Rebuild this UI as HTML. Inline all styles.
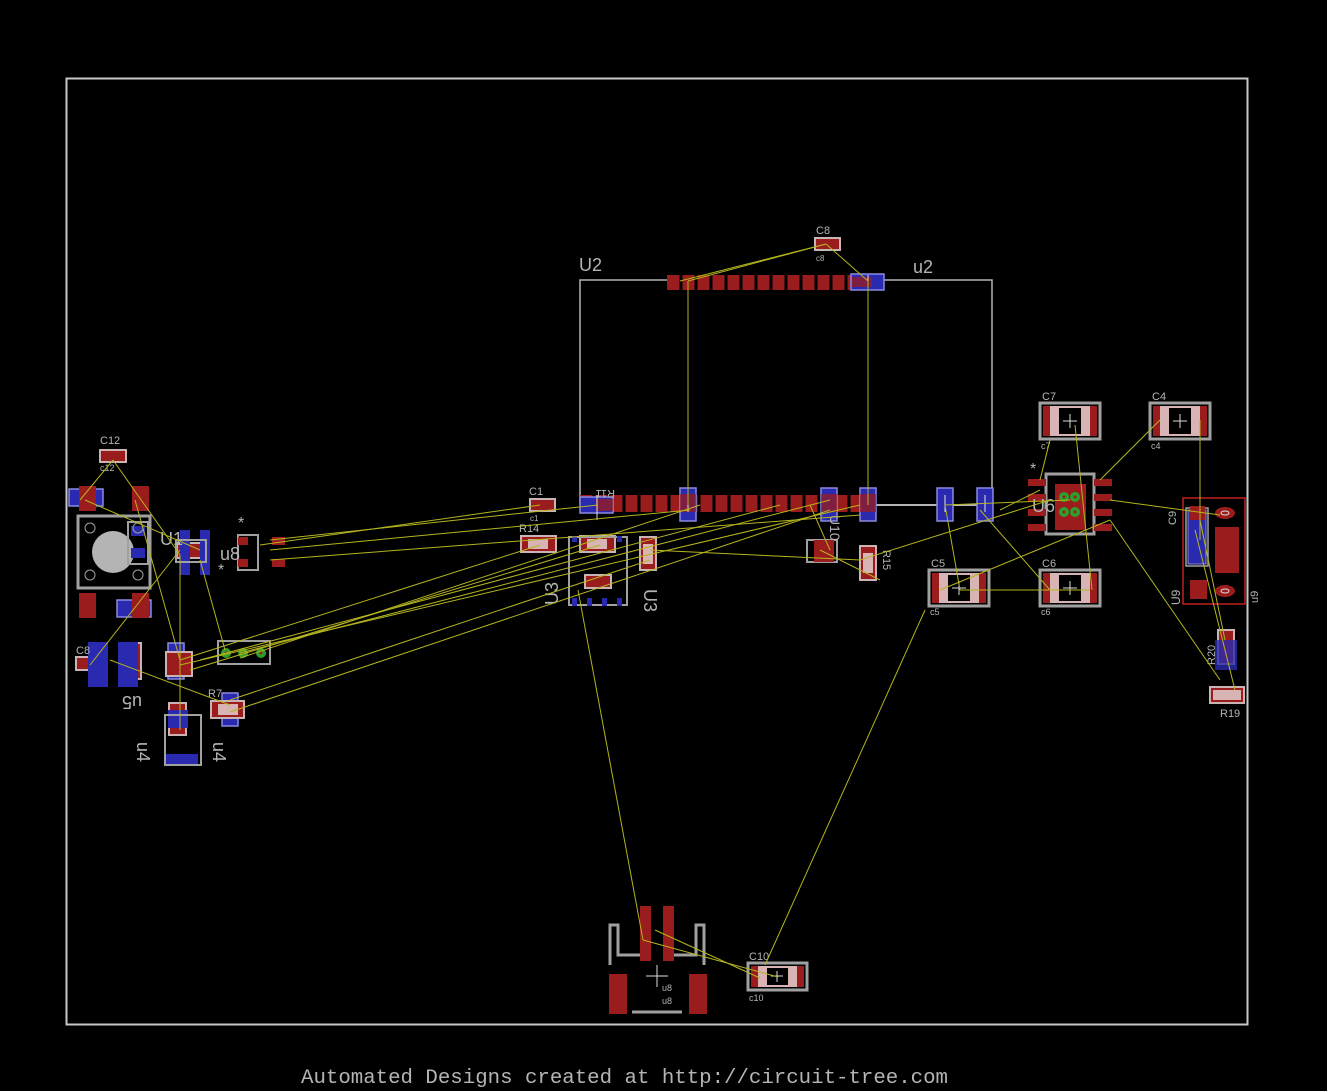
<!DOCTYPE html>
<html><head><meta charset="utf-8"><style>
html,body{margin:0;padding:0;background:#000;}
svg{display:block}
.t{font-family:"Liberation Sans",sans-serif;fill:#b4b4b4}
</style></head><body>
<svg width="1327" height="1091" viewBox="0 0 1327 1091" xmlns="http://www.w3.org/2000/svg">
<rect width="1327" height="1091" fill="#000"/>
<rect x="66.5" y="78.5" width="1181" height="946" fill="none" stroke="#c8c8c8" stroke-width="2"/>

<!-- U2 box -->
<polyline points="580,505 580,280 667,280" fill="none" stroke="#b4b4b4" stroke-width="1.5"/>
<polyline points="884,280 992,280 992,505" fill="none" stroke="#b4b4b4" stroke-width="1.5"/>
<text class="t" x="579" y="271" font-size="18">U2</text>
<text class="t" x="913" y="273" font-size="18">u2</text>
<g fill="#9b1c1c">
<rect x="667" y="275" width="217" height="15"/>
<rect x="580" y="495" width="290" height="17"/>
</g>
<g stroke="#000" stroke-width="3">
<line x1="681" y1="275" x2="681" y2="290"/><line x1="696" y1="275" x2="696" y2="290"/><line x1="711" y1="275" x2="711" y2="290"/><line x1="726" y1="275" x2="726" y2="290"/><line x1="741" y1="275" x2="741" y2="290"/><line x1="756" y1="275" x2="756" y2="290"/><line x1="771" y1="275" x2="771" y2="290"/><line x1="786" y1="275" x2="786" y2="290"/><line x1="801" y1="275" x2="801" y2="290"/><line x1="816" y1="275" x2="816" y2="290"/><line x1="831" y1="275" x2="831" y2="290"/><line x1="846" y1="275" x2="846" y2="290"/>
<line x1="594" y1="495" x2="594" y2="512"/><line x1="609" y1="495" x2="609" y2="512"/><line x1="624" y1="495" x2="624" y2="512"/><line x1="639" y1="495" x2="639" y2="512"/><line x1="654" y1="495" x2="654" y2="512"/><line x1="669" y1="495" x2="669" y2="512"/><line x1="699" y1="495" x2="699" y2="512"/><line x1="714" y1="495" x2="714" y2="512"/><line x1="729" y1="495" x2="729" y2="512"/><line x1="744" y1="495" x2="744" y2="512"/><line x1="759" y1="495" x2="759" y2="512"/><line x1="774" y1="495" x2="774" y2="512"/><line x1="789" y1="495" x2="789" y2="512"/><line x1="804" y1="495" x2="804" y2="512"/><line x1="819" y1="495" x2="819" y2="512"/><line x1="849" y1="495" x2="849" y2="512"/>
</g>
<line x1="870" y1="505" x2="992" y2="505" stroke="#b4b4b4" stroke-width="2"/>

<!-- blue resistors -->
<g fill="#2a2ab0" stroke="#8a8ae0" stroke-width="1.5">
<rect x="680" y="488" width="16" height="33"/>
<rect x="821" y="488" width="16" height="33"/>
<rect x="860" y="488" width="16" height="33"/>
<rect x="937" y="488" width="16" height="33"/>
<rect x="977" y="488" width="16" height="33"/>
<rect x="851" y="274" width="33" height="16"/>
<rect x="580" y="497" width="33" height="16"/>
<rect x="69" y="489" width="34" height="17"/>
<rect x="117" y="600" width="34" height="17"/>
<rect x="222" y="693" width="16" height="33"/>
<rect x="168" y="643" width="16" height="36"/>
</g>
<g fill="#9b1c1c" opacity="0.75"><rect x="852" y="277" width="20" height="10"/><rect x="860" y="494" width="16" height="18"/><rect x="821" y="494" width="16" height="18"/><rect x="680" y="494" width="16" height="18"/><rect x="596" y="499" width="17" height="12"/></g>
<g stroke="#e0e0e0" stroke-width="1"><line x1="868" y1="275" x2="868" y2="290"/><line x1="688" y1="495" x2="688" y2="512"/><line x1="945" y1="495" x2="945" y2="512"/><line x1="985" y1="495" x2="985" y2="512"/><line x1="597" y1="495" x2="597" y2="520"/></g>

<!-- small caps/resistors -->
<g fill="#9b1c1c" stroke="#c8b4b4" stroke-width="2">
<rect x="815" y="238" width="25" height="12"/>
<rect x="530" y="499" width="25" height="12"/>
<rect x="521" y="536" width="35" height="16"/>
<rect x="580" y="536" width="35" height="16"/>
<rect x="585" y="575" width="26" height="13"/>
<rect x="640" y="537" width="16" height="33"/>
<rect x="860" y="546" width="16" height="34"/>
<rect x="100" y="450" width="26" height="12"/>
<rect x="76" y="657" width="25" height="13"/>
<rect x="1210" y="687" width="34" height="16"/>
<rect x="1218" y="630" width="16" height="34"/>
<rect x="125" y="643" width="16" height="36"/>
<rect x="166" y="652" width="26" height="24"/>
<rect x="211" y="701" width="33" height="17"/>
<rect x="169" y="703" width="17" height="32"/>
<rect x="177" y="543" width="26" height="15"/>
</g>
<g fill="#d9b4b4"><rect x="528" y="539" width="20" height="10"/><rect x="587" y="539" width="20" height="10"/><rect x="643" y="544" width="10" height="20"/><rect x="863" y="553" width="10" height="20"/><rect x="1213" y="690" width="28" height="10"/><rect x="218" y="704" width="20" height="11"/></g>

<!-- big caps -->
<g id="bc">
<g transform="translate(1040,403)"><rect x="0" y="0" width="60" height="36" fill="none" stroke="#a0a0a0" stroke-width="3"/><rect x="3" y="3" width="54" height="30" fill="#9b1c1c"/><rect x="10" y="3" width="40" height="30" fill="#d9b4b4"/><rect x="19" y="5" width="22" height="26" fill="#000"/><path d="M30 11v14M23 18h14" stroke="#ddd"/><text class="t" x="2" y="-3" font-size="11">C7</text></g>
<g transform="translate(1150,403)"><rect x="0" y="0" width="60" height="36" fill="none" stroke="#a0a0a0" stroke-width="3"/><rect x="3" y="3" width="54" height="30" fill="#9b1c1c"/><rect x="10" y="3" width="40" height="30" fill="#d9b4b4"/><rect x="19" y="5" width="22" height="26" fill="#000"/><path d="M30 11v14M23 18h14" stroke="#ddd"/><text class="t" x="2" y="-3" font-size="11">C4</text></g>
<g transform="translate(929,570)"><rect x="0" y="0" width="60" height="36" fill="none" stroke="#a0a0a0" stroke-width="3"/><rect x="3" y="3" width="54" height="30" fill="#9b1c1c"/><rect x="10" y="3" width="40" height="30" fill="#d9b4b4"/><rect x="19" y="5" width="22" height="26" fill="#000"/><path d="M30 11v14M23 18h14" stroke="#ddd"/><text class="t" x="2" y="-3" font-size="11">C5</text></g>
<g transform="translate(1040,570)"><rect x="0" y="0" width="60" height="36" fill="none" stroke="#a0a0a0" stroke-width="3"/><rect x="3" y="3" width="54" height="30" fill="#9b1c1c"/><rect x="10" y="3" width="40" height="30" fill="#d9b4b4"/><rect x="19" y="5" width="22" height="26" fill="#000"/><path d="M30 11v14M23 18h14" stroke="#ddd"/><text class="t" x="2" y="-3" font-size="11">C6</text></g>
<g transform="translate(748,963)"><rect x="0" y="0" width="59" height="27" fill="none" stroke="#a0a0a0" stroke-width="3"/><rect x="3" y="3" width="53" height="21" fill="#9b1c1c"/><rect x="10" y="3" width="39" height="21" fill="#d9b4b4"/><rect x="19" y="5" width="21" height="17" fill="#000"/><path d="M29 8v11M23 13h12" stroke="#ddd"/><text class="t" x="1" y="-3" font-size="11">C10</text></g>
</g>
<g class="t" font-size="9"><text class="t" x="1041" y="615">c6</text><text class="t" x="930" y="615">c5</text><text class="t" x="1151" y="449">c4</text><text class="t" x="1041" y="449">c7</text><text class="t" x="749" y="1001">c10</text></g>

<!-- U6 -->
<rect x="1046" y="474" width="48" height="60" fill="none" stroke="#a0a0a0" stroke-width="3"/>
<rect x="1055" y="484" width="31" height="46" fill="#9b1c1c"/>
<g fill="#9b1c1c"><rect x="1028" y="479" width="18" height="7"/><rect x="1028" y="494" width="18" height="7"/><rect x="1028" y="509" width="18" height="7"/><rect x="1028" y="524" width="18" height="7"/><rect x="1094" y="479" width="18" height="7"/><rect x="1094" y="494" width="18" height="7"/><rect x="1094" y="509" width="18" height="7"/><rect x="1094" y="524" width="18" height="7"/></g>
<g fill="#2ca02c"><circle cx="1064" cy="497" r="5"/><circle cx="1075" cy="497" r="5"/><circle cx="1064" cy="512" r="5"/><circle cx="1075" cy="512" r="5"/></g>
<g fill="#9b1c1c"><circle cx="1064" cy="497" r="1.5"/><circle cx="1075" cy="497" r="1.5"/><circle cx="1064" cy="512" r="1.5"/><circle cx="1075" cy="512" r="1.5"/></g>
<text class="t" x="1030" y="474" font-size="16">*</text>
<text class="t" x="1032" y="512" font-size="18">U6</text>

<!-- U9 -->
<rect x="1183" y="498" width="62" height="106" fill="none" stroke="#c02020" stroke-width="1.5"/>
<rect x="1186" y="508" width="22" height="58" fill="none" stroke="#a0a0a0" stroke-width="1.5"/>
<rect x="1188" y="510" width="18" height="54" fill="#2a2ab0" stroke="#8a8ae0"/>
<rect x="1190" y="506" width="15" height="14" fill="#9b1c1c"/>
<rect x="1215" y="527" width="24" height="46" fill="#9b1c1c"/>
<rect x="1190" y="580" width="17" height="19" fill="#9b1c1c"/>
<ellipse cx="1225" cy="513" rx="10" ry="6" fill="#9b1c1c"/><ellipse cx="1225" cy="591" rx="10" ry="6" fill="#9b1c1c"/>
<ellipse cx="1225" cy="513" rx="4" ry="2" fill="none" stroke="#ddd"/><ellipse cx="1225" cy="591" rx="4" ry="2" fill="none" stroke="#ddd"/>
<text class="t" x="1176" y="525" font-size="11" transform="rotate(-90 1176 525)">C9</text>
<text class="t" x="1180" y="605" font-size="12" transform="rotate(-90 1180 605)">U9</text>
<text class="t" x="1260" y="605" font-size="11" transform="rotate(-90 1258 605)">u9</text>
<text class="t" x="1220" y="717" font-size="11">R19</text>
<text class="t" x="1215" y="665" font-size="11" transform="rotate(-90 1215 665)">R20</text>
<rect x="1215" y="640" width="22" height="30" fill="#2a2ab0" opacity="0.8"/>

<!-- U3 -->
<rect x="569" y="537" width="58" height="68" fill="none" stroke="#a0a0a0" stroke-width="2"/>
<g fill="#2a2ab0"><rect x="572" y="598" width="5" height="8"/><rect x="587" y="598" width="5" height="8"/><rect x="602" y="598" width="5" height="8"/><rect x="617" y="598" width="5" height="8"/><rect x="572" y="536" width="5" height="6"/><rect x="617" y="536" width="5" height="6"/></g>
<text class="t" x="558" y="605" font-size="18" transform="rotate(-90 558 605)">U3</text>
<text class="t" x="650" y="583" font-size="18" transform="rotate(90 644 583)">U3</text>
<text class="t" x="595" y="498" font-size="11" transform="rotate(180 605 494)">R11</text>

<!-- U10 -->
<rect x="807" y="540" width="30" height="22" fill="none" stroke="#a0a0a0" stroke-width="2"/>
<rect x="814" y="540" width="20" height="22" fill="#9b1c1c"/>
<text class="t" x="830" y="515" font-size="14" transform="rotate(90 830 515)">U10</text>
<text class="t" x="883" y="550" font-size="11" transform="rotate(90 883 550)">R15</text>

<!-- left region -->
<rect x="78" y="516" width="72" height="72" fill="none" stroke="#a0a0a0" stroke-width="3"/>
<circle cx="113" cy="552" r="21" fill="#b4b4b4"/>
<rect x="128" y="522" width="20" height="42" fill="none" stroke="#a0a0a0" stroke-width="2"/>
<g fill="#2a2ab0"><rect x="131" y="526" width="14" height="10"/><rect x="131" y="548" width="14" height="10"/></g>
<g fill="none" stroke="#a0a0a0"><circle cx="90" cy="528" r="5"/><circle cx="138" cy="528" r="5"/><circle cx="90" cy="575" r="5"/><circle cx="138" cy="575" r="5"/></g>
<g fill="#9b1c1c"><rect x="79" y="486" width="17" height="25"/><rect x="132" y="486" width="17" height="25"/><rect x="79" y="593" width="17" height="25"/><rect x="132" y="593" width="17" height="25"/></g>
<g fill="#2a2ab0"><rect x="88" y="642" width="20" height="45"/><rect x="118" y="642" width="20" height="45"/><rect x="180" y="530" width="10" height="45"/><rect x="200" y="530" width="10" height="45"/><rect x="166" y="754" width="32" height="10"/><rect x="168" y="710" width="20" height="18"/></g>
<rect x="165" y="715" width="36" height="50" fill="none" stroke="#a0a0a0" stroke-width="2"/>
<rect x="176" y="540" width="30" height="22" fill="none" stroke="#a0a0a0" stroke-width="2"/>
<rect x="238" y="535" width="20" height="35" fill="none" stroke="#a0a0a0" stroke-width="2"/>
<g fill="#9b1c1c"><rect x="238" y="537" width="10" height="8"/><rect x="238" y="559" width="10" height="8"/><rect x="272" y="537" width="13" height="8"/><rect x="272" y="559" width="13" height="8"/></g>
<rect x="218" y="641" width="52" height="23" fill="none" stroke="#a0a0a0" stroke-width="2"/>
<g fill="#2ca02c"><circle cx="226" cy="653" r="5"/><circle cx="243" cy="653" r="5"/><circle cx="261" cy="653" r="5"/></g>
<g fill="#9b1c1c"><circle cx="226" cy="653" r="1.5"/><circle cx="243" cy="653" r="1.5"/><circle cx="261" cy="653" r="1.5"/></g>
<text class="t" x="100" y="444" font-size="11">C12</text>
<text class="t" x="100" y="471" font-size="9">c12</text>
<text class="t" x="76" y="654" font-size="11">C8</text>
<text class="t" x="208" y="697" font-size="11">R7</text>
<text class="t" x="160" y="545" font-size="18">U1</text>
<text class="t" x="220" y="560" font-size="18">u8</text>
<text class="t" x="118" y="708" font-size="18" transform="rotate(180 130 702)">u5</text>
<text class="t" x="145" y="766" font-size="18" transform="rotate(90 153 750)">u4</text>
<text class="t" x="200" y="745" font-size="18" transform="rotate(90 208 750)">u4</text>
<text class="t" x="238" y="528" font-size="16">*</text>
<text class="t" x="218" y="575" font-size="16">*</text>

<text class="t" x="816" y="234" font-size="11">C8</text>
<text class="t" x="816" y="261" font-size="8">c8</text>
<text class="t" x="529" y="495" font-size="11">C1</text>
<text class="t" x="530" y="521" font-size="8">c1</text>
<text class="t" x="519" y="532" font-size="11">R14</text>

<!-- bottom connector -->
<g fill="#9b1c1c"><rect x="640" y="906" width="11" height="55"/><rect x="663" y="906" width="11" height="55"/><rect x="609" y="974" width="18" height="40"/><rect x="689" y="974" width="18" height="40"/></g>
<polyline points="610,965 610,925 618,925 618,955 640,955" fill="none" stroke="#a0a0a0" stroke-width="3"/>
<polyline points="704,965 704,925 696,925 696,955 674,955" fill="none" stroke="#a0a0a0" stroke-width="3"/>
<line x1="632" y1="1012" x2="682" y2="1012" stroke="#a0a0a0" stroke-width="3"/>
<path d="M657 965v22M646 976h22" stroke="#ddd"/>
<text class="t" x="662" y="991" font-size="9">u8</text>
<text class="t" x="662" y="1004" font-size="9">u8</text>

<!-- ratsnest -->
<g stroke="#b4b41e" stroke-width="1" fill="none">
<line x1="688" y1="281" x2="688" y2="505"/><line x1="868" y1="281" x2="868" y2="505"/>
<line x1="688" y1="281" x2="826" y2="244"/><line x1="868" y1="281" x2="826" y2="244"/><line x1="680" y1="281" x2="826" y2="244"/>
<line x1="578" y1="590" x2="643" y2="940"/><line x1="643" y1="940" x2="778" y2="977"/><line x1="925" y1="610" x2="765" y2="965"/><line x1="655" y1="930" x2="760" y2="978"/>
<line x1="270" y1="540" x2="598" y2="505"/><line x1="270" y1="550" x2="690" y2="510"/><line x1="270" y1="560" x2="860" y2="515"/><line x1="260" y1="545" x2="540" y2="505"/>
<line x1="240" y1="653" x2="830" y2="500"/><line x1="240" y1="658" x2="700" y2="505"/><line x1="230" y1="700" x2="650" y2="560"/><line x1="180" y1="660" x2="540" y2="545"/><line x1="180" y1="665" x2="860" y2="505"/><line x1="190" y1="670" x2="600" y2="545"/><line x1="200" y1="660" x2="780" y2="505"/><line x1="230" y1="712" x2="830" y2="510"/>
<line x1="650" y1="550" x2="860" y2="560"/><line x1="860" y1="560" x2="1050" y2="500"/><line x1="945" y1="505" x2="1070" y2="500"/><line x1="810" y1="505" x2="830" y2="550"/><line x1="820" y1="550" x2="880" y2="580"/>
<line x1="1100" y1="480" x2="1160" y2="420"/><line x1="1200" y1="420" x2="1200" y2="540"/><line x1="1110" y1="500" x2="1220" y2="515"/><line x1="1110" y1="520" x2="1220" y2="680"/><line x1="1195" y1="530" x2="1235" y2="690"/><line x1="1200" y1="520" x2="1225" y2="640"/>
<line x1="1050" y1="440" x2="1040" y2="480"/><line x1="1075" y1="425" x2="1092" y2="590"/><line x1="960" y1="590" x2="1090" y2="590"/><line x1="945" y1="505" x2="960" y2="590"/><line x1="980" y1="510" x2="1050" y2="590"/><line x1="940" y1="590" x2="1110" y2="520"/><line x1="1000" y1="510" x2="1040" y2="490"/>
<line x1="113" y1="460" x2="180" y2="555"/><line x1="113" y1="460" x2="80" y2="500"/><line x1="135" y1="500" x2="180" y2="660"/><line x1="90" y1="665" x2="180" y2="550"/><line x1="180" y1="555" x2="180" y2="730"/><line x1="200" y1="560" x2="225" y2="650"/><line x1="110" y1="660" x2="230" y2="705"/><line x1="85" y1="500" x2="200" y2="550"/>
</g>

<text x="301" y="1083" font-size="20" textLength="647" lengthAdjust="spacingAndGlyphs" style="font-family:'Liberation Mono',monospace;fill:#b4b4b4">Automated Designs created at http://circuit-tree.com</text>
</svg>
</body></html>
